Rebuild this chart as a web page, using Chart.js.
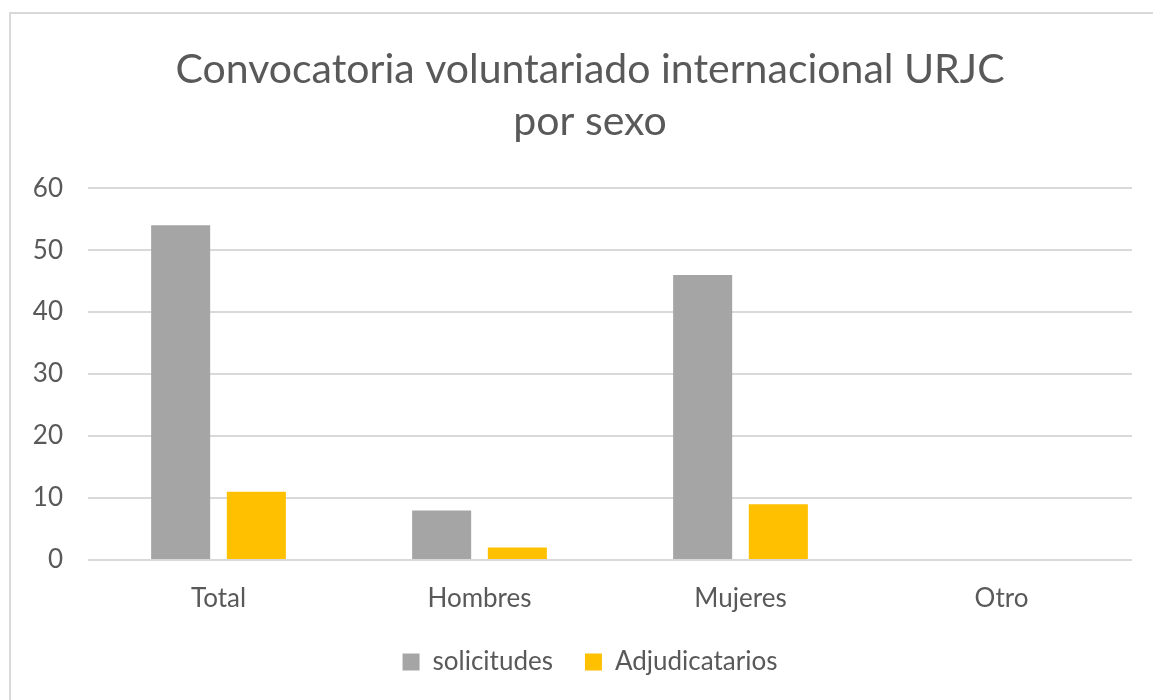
<!DOCTYPE html>
<html>
<head>
<meta charset="utf-8">
<script src="https://cdn.jsdelivr.net/npm/chart.js@4"></script>
<style>
  html, body { margin: 0; padding: 0; background: #fff; overflow: hidden; }
  #frame {
    position: absolute; left: 9px; top: 12px;
    width: 1162px; height: 700px;
    border: 2px solid #d9d9d9; box-sizing: border-box;
  }
  #wrap { position: absolute; left: 0; top: 0; width: 1160px; height: 686px; }
</style>
</head>
<body>
<div id="frame"><div id="wrap"><canvas id="chart"></canvas></div></div>
<script>
const categories = ['Total', 'Hombres', 'Mujeres', 'Otro'];
const solicitudes = [54, 8, 46, 0];
const adjudicatarios = [11, 2, 9, 0];
const yTicks = [0, 10, 20, 30, 40, 50, 60];

const textColor = '#595959';
const fontFamily = 'Lato, "Open Sans", sans-serif';

const ctx = document.getElementById('chart').getContext('2d');
new Chart(ctx, {
  type: 'bar',
  data: {
    labels: categories,
    datasets: [
      { label: 'solicitudes', data: solicitudes, backgroundColor: '#a5a5a5' },
      { label: 'Adjudicatarios', data: adjudicatarios, backgroundColor: '#ffc000' }
    ]
  },
  options: {
    responsive: true,
    maintainAspectRatio: false,
    animation: false,
    categoryPercentage: 0.58,
    barPercentage: 0.78,
    layout: { padding: { left: 22, right: 24, top: 0, bottom: 15 } },
    plugins: {
      title: {
        display: true,
        text: ['Convocatoria voluntariado internacional URJC', 'por sexo'],
        color: textColor,
        font: { family: fontFamily, size: 41, weight: 'normal', lineHeight: 1.27 },
        padding: { top: 30, bottom: 40 }
      },
      legend: {
        position: 'bottom',
        labels: {
          color: textColor,
          font: { family: fontFamily, size: 26 },
          boxWidth: 17, boxHeight: 17,
          padding: 32
        }
      },
      tooltip: { enabled: false }
    },
    scales: {
      x: {
        grid: { display: false, drawTicks: false },
        border: { display: false },
        afterFit: axis => { axis.height = 57; },
        ticks: { color: textColor, font: { family: fontFamily, size: 26 }, padding: 23 }
      },
      y: {
        min: yTicks[0],
        max: yTicks[yTicks.length - 1],
        afterBuildTicks: axis => { axis.ticks = yTicks.map(v => ({ value: v })); },
        afterFit: axis => { axis.width = 55; },
        grid: { color: '#d9d9d9', lineWidth: 2, drawTicks: false },
        border: { display: false },
        ticks: { color: textColor, font: { family: fontFamily, size: 26 }, padding: 25 }
      },
      // empty spacer on the right so the title sits where it does in the original
      yRight: {
        position: 'right',
        grid: { display: false, drawTicks: false },
        border: { display: false },
        ticks: { display: false },
        afterFit: axis => { axis.width = 15; }
      }
    }
  }
});
</script>
</body>
</html>
